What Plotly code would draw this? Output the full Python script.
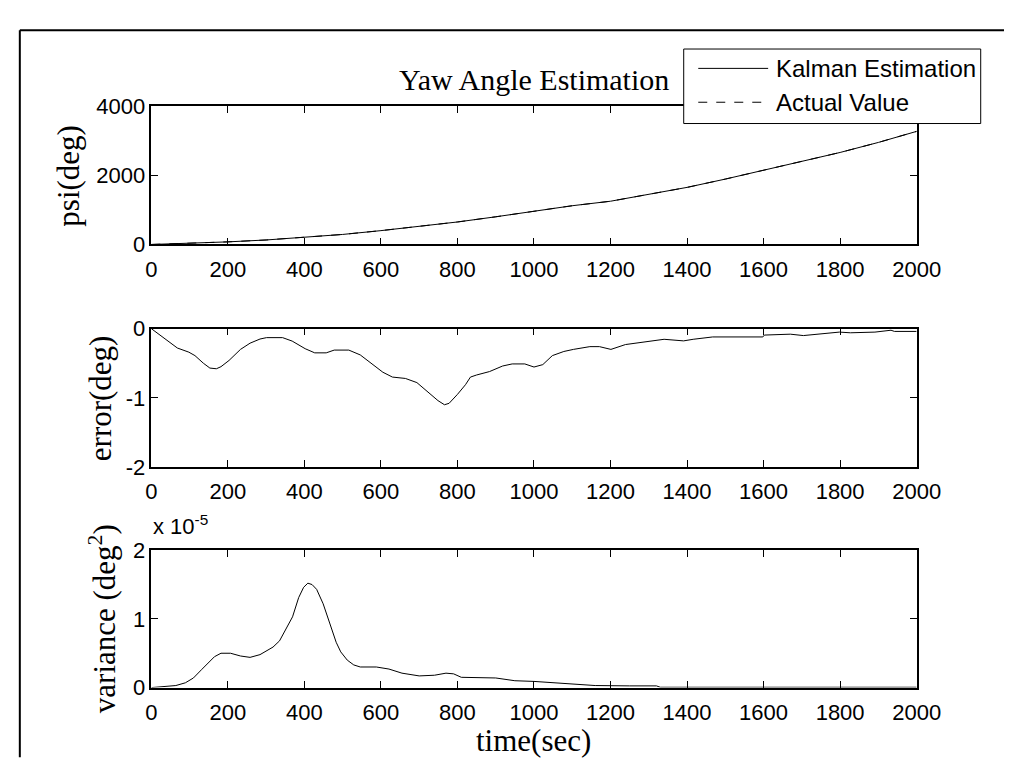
import plotly.graph_objects as go

W, H = 1020, 770

# ---------------- data ----------------
psi_t = [0, 100, 200, 300, 400, 500, 600, 700, 800, 900, 1000, 1100, 1200, 1300, 1400,
         1500, 1600, 1700, 1800, 1900, 2000]
psi_actual = [0, 30, 75, 130, 200, 290, 400, 520, 650, 800, 960, 1120, 1250, 1440, 1650,
              1890, 2150, 2400, 2660, 2950, 3270]
psi_kalman = [0, 30, 75, 130, 200, 290, 400, 520, 650, 800, 959, 1120, 1250, 1440, 1650,
              1890, 2150, 2400, 2660, 2950, 3270]

err_t = [0, 55, 68, 98, 114, 136, 153, 170, 182, 203, 233, 258, 284, 301, 343, 368, 402, 427,
         457, 478, 516, 546, 580, 605, 630, 664, 694, 723, 749, 766, 778, 800, 821, 834, 850,
         884, 918, 943, 976, 1000, 1023, 1048, 1078, 1103, 1146, 1171, 1201, 1239, 1298, 1340,
         1391, 1416, 1467, 1598, 1602, 1670, 1704, 1747, 1798, 1827, 1891, 1933, 1942, 2000]
err_v = [0, -0.22, -0.28, -0.34, -0.39, -0.50, -0.57, -0.58, -0.55, -0.46, -0.30, -0.21, -0.15,
         -0.13, -0.13, -0.18, -0.29, -0.35, -0.35, -0.31, -0.31, -0.38, -0.52, -0.63, -0.70,
         -0.72, -0.78, -0.92, -1.04, -1.10, -1.08, -0.95, -0.81, -0.70, -0.67, -0.62, -0.54,
         -0.51, -0.51, -0.555, -0.52, -0.39, -0.33, -0.30, -0.26, -0.26, -0.30, -0.23, -0.18,
         -0.154, -0.177, -0.154, -0.12, -0.12, -0.093, -0.08, -0.10, -0.08, -0.05, -0.06, -0.05,
         -0.023, -0.04, -0.04]

# variance in units of 1e-5 deg^2
var_t = [0, 38, 64, 89, 110, 131, 148, 165, 182, 207, 233, 258, 284, 301, 318, 335, 352, 369,
         385, 398, 409, 420, 432, 449, 466, 483, 495, 512, 529, 546, 588, 621, 655, 700, 740,
         770, 790, 810, 900, 950, 1000, 1050, 1100, 1160, 1250, 1320, 1330, 2000]
var_v = [0.0, 0.02, 0.03, 0.07, 0.14, 0.26, 0.35, 0.45, 0.50, 0.50, 0.46, 0.44, 0.48, 0.53,
         0.59, 0.68, 0.85, 1.03, 1.31, 1.46, 1.52, 1.50, 1.43, 1.22, 0.94, 0.66, 0.52, 0.40,
         0.33, 0.30, 0.30, 0.27, 0.21, 0.17, 0.18, 0.21, 0.20, 0.15, 0.14, 0.10, 0.09, 0.07,
         0.05, 0.03, 0.025, 0.025, 0.005, 0.005]

x_ticks = [0, 200, 400, 600, 800, 1000, 1200, 1400, 1600, 1800, 2000]
psi_ticks = [0, 2000, 4000]
err_ticks = [-2, -1, 0]
var_ticks = [0, 1, 2]

title_text = "Yaw Angle Estimation"
legend_names = ["Kalman Estimation", "Actual Value"]

# ---------------- layout helpers ----------------
SERIF = "Liberation Serif, Times New Roman, serif"
SANS = "Liberation Sans, Arial, sans-serif"

def px(x):
    return x / W

def py(y):
    return 1 - y / H

x_dom = [px(141.5), px(930)]
doms = [[py(232), py(89)], [py(462), py(319)], [py(690), py(548)]]

fig = go.Figure()

line_style = dict(color="black", width=1)
fig.add_trace(go.Scatter(x=psi_t, y=psi_actual, mode="lines", name=legend_names[1],
                         line=dict(color="black", width=1, dash="dash"),
                         xaxis="x", yaxis="y", showlegend=False))
fig.add_trace(go.Scatter(x=psi_t, y=psi_kalman, mode="lines", name=legend_names[0],
                         line=line_style, xaxis="x", yaxis="y", showlegend=False))
fig.add_trace(go.Scatter(x=err_t, y=err_v, mode="lines", line=line_style,
                         xaxis="x2", yaxis="y2", showlegend=False))
fig.add_trace(go.Scatter(x=var_t, y=var_v, mode="lines", line=line_style,
                         xaxis="x3", yaxis="y3", showlegend=False))

axis_common = dict(showline=True, linecolor="black", linewidth=1.5, mirror="ticks",
                   ticks="inside", ticklen=7, tickwidth=1, tickcolor="black",
                   showgrid=False, zeroline=False,
                   tickfont=dict(family=SANS, size=22, color="black"))

xa = dict(axis_common, domain=x_dom, range=[0, 2000], tickvals=x_ticks,
          ticktext=[str(v) for v in x_ticks], ticklabelstandoff=4)

fig.update_layout(
    width=W, height=H, margin=dict(l=0, r=0, t=0, b=0),
    paper_bgcolor="white", plot_bgcolor="white", showlegend=False,
    xaxis=dict(xa, anchor="y"),
    xaxis2=dict(xa, anchor="y2"),
    xaxis3=dict(xa, anchor="y3"),
    yaxis=dict(axis_common, domain=doms[0], range=[0, 4000], tickvals=psi_ticks,
               ticktext=[str(v) for v in psi_ticks], anchor="x"),
    yaxis2=dict(axis_common, domain=doms[1], range=[-2, 0], tickvals=err_ticks,
                ticktext=[str(v) for v in err_ticks], anchor="x2"),
    yaxis3=dict(axis_common, domain=doms[2], range=[0, 2], tickvals=var_ticks,
                ticktext=[str(v) for v in var_ticks], anchor="x3"),
)

ann = []
# title
ann.append(dict(text=title_text, x=px(535.7), y=py(62), xref="paper", yref="paper",
                showarrow=False, xanchor="center", yanchor="middle",
                font=dict(family=SERIF, size=30, color="black")))
# y labels
ann.append(dict(text="psi(deg)", x=px(56), y=py(160.5), xref="paper", yref="paper",
                showarrow=False, textangle=-90, xanchor="center", yanchor="middle",
                font=dict(family=SERIF, size=31, color="black")))
ann.append(dict(text="error(deg)", x=px(89), y=py(390.5), xref="paper", yref="paper",
                showarrow=False, textangle=-90, xanchor="center", yanchor="middle",
                font=dict(family=SERIF, size=31, color="black")))
ann.append(dict(text="variance (deg<sup>2</sup>)", x=px(92), y=py(619), xref="paper",
                yref="paper", showarrow=False, textangle=-90, xanchor="center",
                yanchor="middle", font=dict(family=SERIF, size=31, color="black")))
# x label
ann.append(dict(text="time(sec)", x=px(535.7), y=py(745), xref="paper", yref="paper",
                showarrow=False, xanchor="center", yanchor="middle",
                font=dict(family=SERIF, size=31, color="black")))
# exponent
ann.append(dict(text="x 10<sup>-5</sup>", x=px(141), y=py(538), xref="paper", yref="paper",
                showarrow=False, xanchor="left", yanchor="bottom",
                font=dict(family=SANS, size=22, color="black")))
# legend texts
ann.append(dict(text=legend_names[0], x=px(783), y=py(50), xref="paper", yref="paper",
                showarrow=False, xanchor="left", yanchor="middle",
                font=dict(family=SANS, size=24, color="black")))
ann.append(dict(text=legend_names[1], x=px(783), y=py(85), xref="paper", yref="paper",
                showarrow=False, xanchor="left", yanchor="middle",
                font=dict(family=SANS, size=24, color="black")))
fig.update_layout(annotations=ann)

shapes = []
# outer frame (top and left edges)
shapes.append(dict(type="line", xref="paper", yref="paper", x0=px(6), x1=1.0,
                   y0=py(10.5), y1=py(10.5), line=dict(color="black", width=2)))
shapes.append(dict(type="line", xref="paper", yref="paper", x0=px(6), x1=px(6),
                   y0=py(10.5), y1=py(762), line=dict(color="black", width=2)))
# legend box
shapes.append(dict(type="rect", xref="paper", yref="paper", x0=px(690), x1=px(996),
                   y0=py(107), y1=py(30), fillcolor="white",
                   line=dict(color="black", width=1), layer="above"))
shapes.append(dict(type="line", xref="paper", yref="paper", x0=px(705), x1=px(777),
                   y0=py(50), y1=py(50), line=dict(color="black", width=1), layer="above"))
shapes.append(dict(type="line", xref="paper", yref="paper", x0=px(705), x1=px(777),
                   y0=py(85), y1=py(85), line=dict(color="black", width=1, dash="dash"),
                   layer="above"))
fig.update_layout(shapes=shapes)

fig.write_html("out.html")
